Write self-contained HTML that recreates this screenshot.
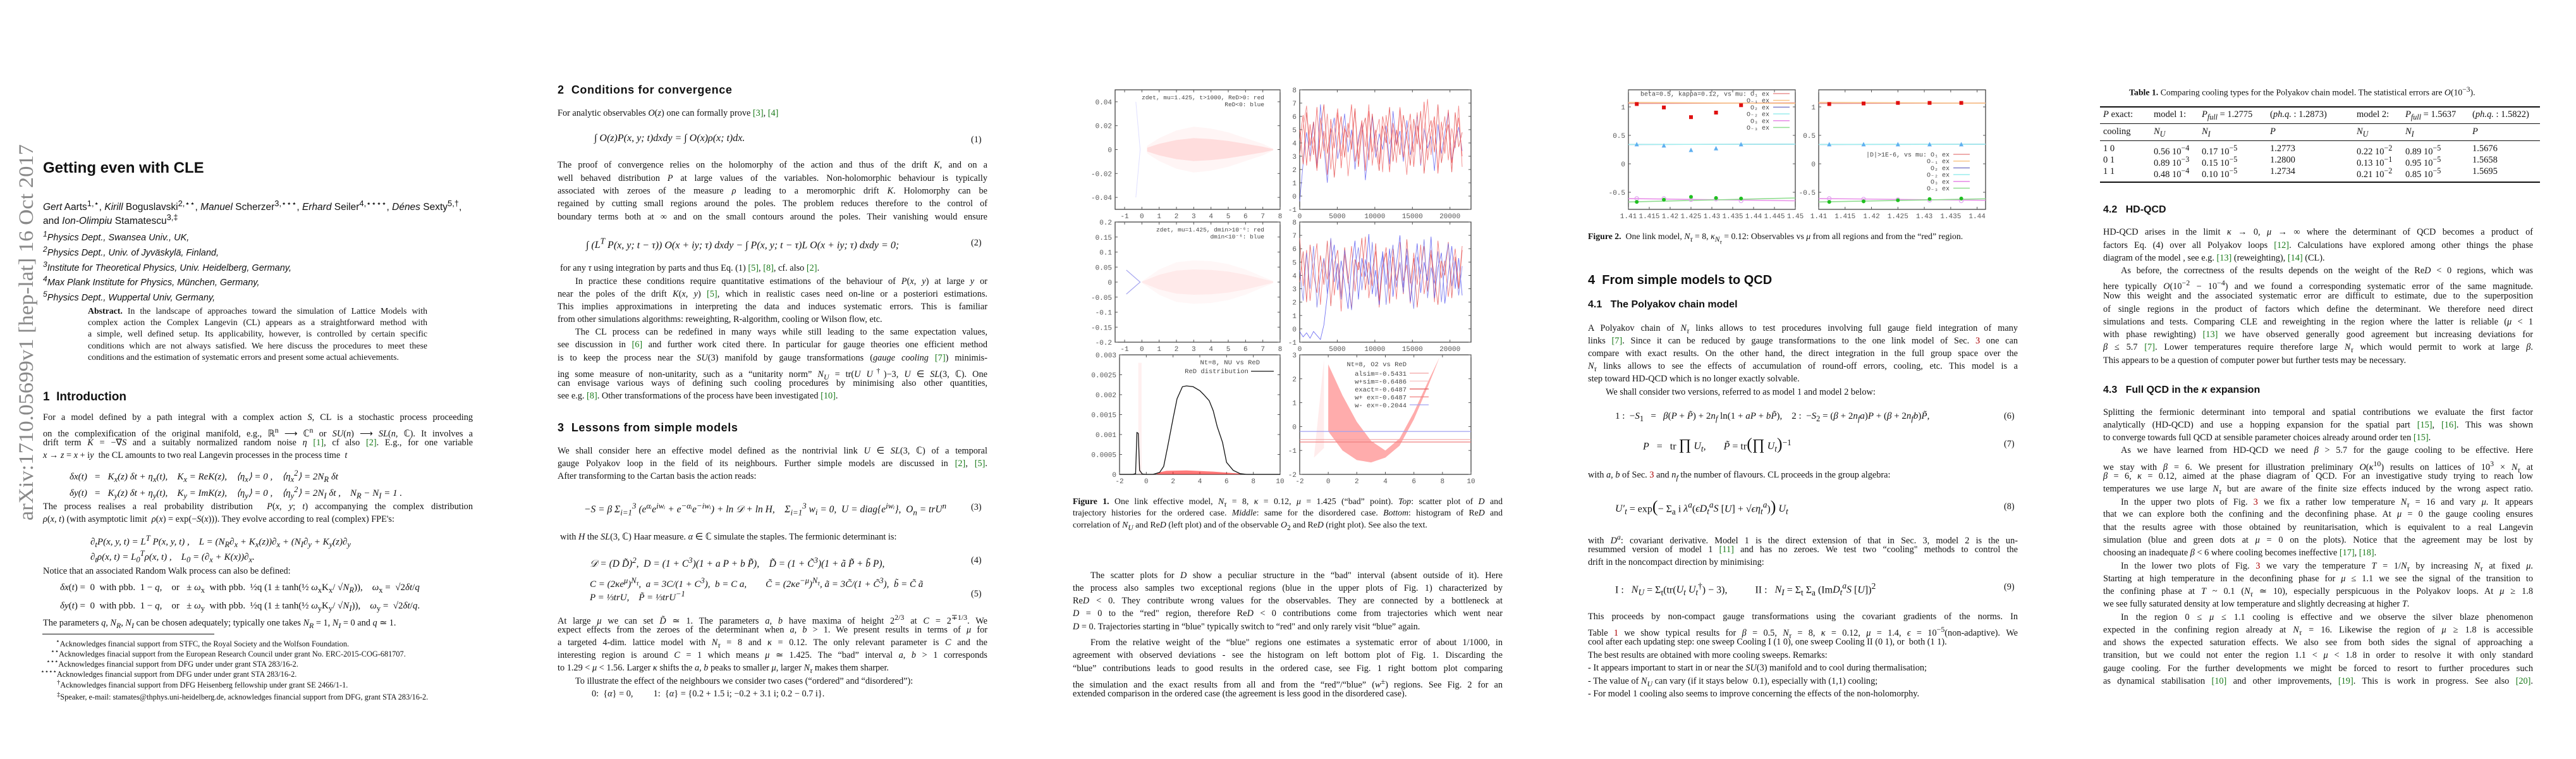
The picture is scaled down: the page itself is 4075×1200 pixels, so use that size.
<!DOCTYPE html>
<html><head><meta charset="utf-8">
<style>
html,body{margin:0;padding:0;background:#fff;}
body{width:4075px;height:1200px;position:relative;overflow:hidden;font-family:"Liberation Serif",serif;color:#111;}
.L,.E{position:absolute;width:680px;font-size:14.3px;line-height:20px;text-align:justify;text-align-last:justify;white-space:normal;}
.E{text-align-last:left;}
.I{text-indent:28px;}
.X{position:absolute;font-size:14.3px;line-height:20px;white-space:nowrap;}
.C{position:absolute;width:680px;font-size:13.8px;line-height:18px;text-align:justify;text-align-last:justify;}
.CE{text-align-last:left;}
.H1{position:absolute;font-family:"Liberation Sans",sans-serif;font-weight:bold;font-size:19px;white-space:nowrap;}
.H2{position:absolute;font-family:"Liberation Sans",sans-serif;font-weight:bold;font-size:16px;white-space:nowrap;}
.EQ{position:absolute;font-size:15px;line-height:20px;white-space:nowrap;font-style:italic;}
.EN{position:absolute;font-size:14.3px;line-height:20px;}
.S{font-family:"Liberation Sans",sans-serif;}
.FN{position:absolute;font-size:12.3px;line-height:16px;white-space:nowrap;}
.AF{position:absolute;font-family:"Liberation Sans",sans-serif;font-style:italic;font-size:14.5px;line-height:18px;white-space:nowrap;}
.ref{color:#1a7a1a;}
.rr{color:#a00;}
.tb{position:absolute;font-size:14.5px;white-space:nowrap;}
.rule{position:absolute;background:#111;}
</style></head>
<body>

<!-- PAGE 1 -->
<svg style="position:absolute;left:20px;top:220px" width="40" height="610"><text transform="translate(32,603) rotate(-90)" font-family="Liberation Serif" font-size="33" fill="#888" textLength="595" lengthAdjust="spacingAndGlyphs">arXiv:1710.05699v1  [hep-lat]  16 Oct 2017</text></svg>
<div class="H1" style="left:68px;top:252px;font-size:24px">Getting even with CLE</div>
<div class="X S" style="left:68px;top:312px;font-size:15.5px"><i>Gert</i> Aarts<sup>1,⋆</sup>, <i>Kirill</i> Boguslavski<sup>2,⋆⋆</sup>, <i>Manuel</i> Scherzer<sup>3,⋆⋆⋆</sup>, <i>Erhard</i> Seiler<sup>4,⋆⋆⋆⋆</sup>, <i>Dénes</i> Sexty<sup>5,†</sup>,</div>
<div class="X S" style="left:68px;top:334px;font-size:15.5px">and <i>Ion-Olimpiu</i> Stamatescu<sup>3,‡</sup></div>
<div class="AF" style="left:68px;top:361px"><sup>1</sup>Physics Dept., Swansea Univ., UK,<br><sup>2</sup>Physics Dept., Univ. of Jyväskylä, Finland,<br><sup>3</sup>Institute for Theoretical Physics, Univ. Heidelberg, Germany,<br><sup>4</sup>Max Plank Institute for Physics, München, Germany,<br><sup>5</sup>Physics Dept., Wuppertal Univ, Germany,</div>
<div>
<div class="C" style="left:139px;top:483px;width:537px"><b>Abstract.</b> In the landscape of approaches toward the simulation of Lattice Models with</div>
<div class="C" style="left:139px;top:501px;width:537px">complex action the Complex Langevin (CL) appears as a straightforward method with</div>
<div class="C" style="left:139px;top:519px;width:537px">a simple, well defined setup. Its applicability, however, is controlled by certain specific</div>
<div class="C" style="left:139px;top:538px;width:537px">conditions which are not always satisfied. We here discuss the procedures to meet these</div>
<div class="C CE" style="left:139px;top:556px;width:537px">conditions and the estimation of systematic errors and present some actual achievements.</div>
</div>
<div class="H1" style="left:68px;top:617px">1&nbsp; Introduction</div>
<div>
<div class="L" style="left:68px;top:650px">For a model defined by a path integral with a complex action <i>S</i>, CL is a stochastic process proceeding</div>
<div class="L" style="left:68px;top:670px">on the complexification of the original manifold, e.g., ℝ<sup>n</sup> ⟶ ℂ<sup>n</sup> or <i>SU</i>(<i>n</i>) ⟶ <i>SL</i>(<i>n</i>, ℂ). It involves a</div>
<div class="L" style="left:68px;top:690px">drift term <i>K</i> = −∇<i>S</i> and a suitably normalized random noise <i>η</i> <span class="ref">[1]</span>, cf also <span class="ref">[2]</span>. E.g., for one variable</div>
<div class="E" style="left:68px;top:710px"><i>x</i> → <i>z</i> = <i>x</i> + i<i>y</i>&nbsp; the CL amounts to two real Langevin processes in the process time&nbsp; <i>t</i></div>
<div class="EQ" style="left:110px;top:738px"><i>δx</i>(<i>t</i>) &nbsp;&nbsp;= &nbsp;&nbsp;<i>K<sub>x</sub></i>(<i>z</i>) <i>δt</i> + <i>η<sub>x</sub></i>(<i>t</i>), &nbsp;&nbsp;&nbsp;<i>K<sub>x</sub></i> = Re<i>K</i>(<i>z</i>), &nbsp;&nbsp;&nbsp;⟨<i>η<sub>x</sub></i>⟩ = 0 , &nbsp;&nbsp;&nbsp;⟨<i>η<sub>x</sub></i><sup>2</sup>⟩ = 2<i>N<sub>R</sub> δt</i></div>
<div class="EQ" style="left:110px;top:764px"><i>δy</i>(<i>t</i>) &nbsp;&nbsp;= &nbsp;&nbsp;<i>K<sub>y</sub></i>(<i>z</i>) <i>δt</i> + <i>η<sub>y</sub></i>(<i>t</i>), &nbsp;&nbsp;&nbsp;<i>K<sub>y</sub></i> = Im<i>K</i>(<i>z</i>), &nbsp;&nbsp;&nbsp;⟨<i>η<sub>y</sub></i>⟩ = 0 , &nbsp;&nbsp;&nbsp;⟨<i>η<sub>y</sub></i><sup>2</sup>⟩ = 2<i>N<sub>I</sub> δt</i> , &nbsp;&nbsp;&nbsp;<i>N<sub>R</sub></i> − <i>N<sub>I</sub></i> = 1 .</div>
<div class="L" style="left:68px;top:791px">The process realises a real probability distribution &nbsp;<i>P</i>(<i>x</i>, <i>y</i>; <i>t</i>) accompanying the complex distribution</div>
<div class="E" style="left:68px;top:811px"><i>ρ</i>(<i>x</i>, <i>t</i>) (with asymptotic limit &nbsp;<i>ρ</i>(<i>x</i>) = exp(−<i>S</i>(<i>x</i>))). They evolve according to real (complex) FPE's:</div>
<div class="EQ" style="left:143px;top:841px">∂<sub>t</sub><i>P</i>(<i>x</i>, <i>y</i>, <i>t</i>) = <i>L<sup>T</sup> P</i>(<i>x</i>, <i>y</i>, <i>t</i>) , &nbsp;&nbsp;&nbsp;<i>L</i> = (<i>N<sub>R</sub></i>∂<sub>x</sub> + <i>K<sub>x</sub></i>(<i>z</i>))∂<sub>x</sub> + (<i>N<sub>I</sub></i>∂<sub>y</sub> + <i>K<sub>y</sub></i>(<i>z</i>)∂<sub>y</sub></div>
<div class="EQ" style="left:143px;top:865px">∂<sub>t</sub><i>ρ</i>(<i>x</i>, <i>t</i>) = <i>L</i><sub>0</sub><sup>T</sup><i>ρ</i>(<i>x</i>, <i>t</i>) , &nbsp;&nbsp;&nbsp;<i>L</i><sub>0</sub> = (∂<sub>x</sub> + <i>K</i>(<i>x</i>))∂<sub>x</sub>.</div>
<div class="E" style="left:68px;top:893px">Notice that an associated Random Walk process can also be defined:</div>
<div class="EQ" style="left:95px;top:919px;font-style:normal"><i>δx</i>(<i>t</i>) = &nbsp;0 &nbsp;with pbb. &nbsp;1 − <i>q</i>, &nbsp;&nbsp;&nbsp;or &nbsp;&nbsp;± <i>ω</i><sub>x</sub> &nbsp;with pbb. &nbsp;½q (1 ± tanh(½ <i>ω</i><sub>x</sub>K<sub>x</sub>/ √<i>N<sub>R</sub></i>)), &nbsp;&nbsp;&nbsp;<i>ω</i><sub>x</sub> = &nbsp;√2<i>δt</i>/<i>q</i></div>
<div class="EQ" style="left:95px;top:948px;font-style:normal"><i>δy</i>(<i>t</i>) = &nbsp;0 &nbsp;with pbb. &nbsp;1 − <i>q</i>, &nbsp;&nbsp;&nbsp;or &nbsp;&nbsp;± <i>ω</i><sub>y</sub> &nbsp;with pbb. &nbsp;½q (1 ± tanh(½ <i>ω</i><sub>y</sub>K<sub>y</sub>/ √<i>N<sub>I</sub></i>)), &nbsp;&nbsp;&nbsp;<i>ω</i><sub>y</sub> = &nbsp;√2<i>δt</i>/<i>q</i>.</div>
<div class="E" style="left:68px;top:975px">The parameters <i>q</i>, <i>N<sub>R</sub></i>, <i>N<sub>I</sub></i> can be chosen adequately; typically one takes <i>N<sub>R</sub></i> = 1, <i>N<sub>I</sub></i> = 0 and <i>q</i> ≃ 1.</div>
</div>
<div class="rule" style="left:67px;top:1002px;width:272px;height:1px"></div>
<div>
<div class="FN" style="left:82px;top:1007px">&nbsp;&nbsp;<sup>⋆</sup>Acknowledges financial support from STFC, the Royal Society and the Wolfson Foundation.</div>
<div class="FN" style="left:74px;top:1023px">&nbsp;&nbsp;<sup>⋆⋆</sup>Acknowledges finacial support from the European Research Council under grant No. ERC-2015-COG-681707.</div>
<div class="FN" style="left:67px;top:1039px">&nbsp;&nbsp;<sup>⋆⋆⋆</sup>Acknowledges financial support from DFG under under grant STA 283/16-2.</div>
<div class="FN" style="left:58px;top:1055px">&nbsp;&nbsp;<sup>⋆⋆⋆⋆</sup>Acknowledges financial support from DFG under under grant STA 283/16-2.</div>
<div class="FN" style="left:84px;top:1072px">&nbsp;&nbsp;<sup>†</sup>Acknowledges financial support from DFG Heisenberg fellowship under grant SE 2466/1-1.</div>
<div class="FN" style="left:84px;top:1091px">&nbsp;&nbsp;<sup>‡</sup>Speaker, e-mail: stamates@thphys.uni-heidelberg.de, acknowledges financial support from DFG, grant STA 283/16-2.</div>
</div>

<!-- PAGE 2 -->
<div class="H1" style="left:882px;top:132px;font-size:18px;letter-spacing:0.6px">2&nbsp; Conditions for convergence</div>
<div>
<div class="E" style="left:882px;top:169px">For analytic observables <i>O</i>(<i>z</i>) one can formally prove <span class="ref">[3]</span>, <span class="ref">[4]</span></div>
<div class="EQ" style="left:940px;top:209px;font-size:16px">∫ <i>O</i>(<i>z</i>)<i>P</i>(<i>x</i>, <i>y</i>; <i>t</i>)<i>dxdy</i> = ∫ <i>O</i>(<i>x</i>)<i>ρ</i>(<i>x</i>; <i>t</i>)<i>dx</i>.</div>
<div class="EN" style="left:1536px;top:211px">(1)</div>
<div class="L" style="left:882px;top:251px">The proof of convergence relies on the holomorphy of the action and thus of the drift <i>K</i>, and on a</div>
<div class="L" style="left:882px;top:272px">well behaved distribution <i>P</i> at large values of the variables. Non-holomorphic behaviour is typically</div>
<div class="L" style="left:882px;top:292px">associated with zeroes of the measure <i>ρ</i> leading to a meromorphic drift <i>K</i>. Holomorphy can be</div>
<div class="L" style="left:882px;top:312px">regained by cutting small regions around the poles. The problem reduces therefore to the control of</div>
<div class="L" style="left:882px;top:333px">boundary terms both at ∞ and on the small contours around the poles. Their vanishing would ensure</div>
<div class="EQ" style="left:927px;top:372px;font-size:16px">∫ (<i>L<sup>T</sup> P</i>(<i>x</i>, <i>y</i>; <i>t</i> − <i>τ</i>)) <i>O</i>(<i>x</i> + i<i>y</i>; <i>τ</i>) <i>dxdy</i> − ∫ <i>P</i>(<i>x</i>, <i>y</i>; <i>t</i> − <i>τ</i>)<i>L O</i>(<i>x</i> + i<i>y</i>; <i>τ</i>) <i>dxdy</i> = 0;</div>
<div class="EN" style="left:1536px;top:374px">(2)</div>
<div class="E" style="left:886px;top:414px">for any <i>τ</i> using integration by parts and thus Eq. (1) <span class="ref">[5]</span>, <span class="ref">[8]</span>, cf. also <span class="ref">[2]</span>.</div>
<div class="L I" style="left:882px;top:435px">In practice these conditions require quantitative estimations of the behaviour of <i>P</i>(<i>x</i>, <i>y</i>) at large <i>y</i> or</div>
<div class="L" style="left:882px;top:455px">near the poles of the drift <i>K</i>(<i>x</i>, <i>y</i>) <span class="ref">[5]</span>, which in realistic cases need on-line or a posteriori estimations.</div>
<div class="L" style="left:882px;top:475px">This implies approximations in interpreting the data and induces systematic errors. This is familiar</div>
<div class="E" style="left:882px;top:495px">from other simulations algorithms: reweighting, R-algorithm, cooling or Wilson flow, etc.</div>
<div class="L I" style="left:882px;top:515px">The CL process can be redefined in many ways while still leading to the same expectation values,</div>
<div class="L" style="left:882px;top:535px">see discussion in <span class="ref">[6]</span> and further work cited there. In particular for gauge theories one efficient method</div>
<div class="L" style="left:882px;top:556px">is to keep the process near the <i>SU</i>(3) manifold by gauge transformations (<i>gauge cooling</i> <span class="ref">[7]</span>) minimis-</div>
<div class="L" style="left:882px;top:576px">ing some measure of non-unitarity, such as a “unitarity norm” <i>N<sub>U</sub></i> = tr(<i>U U</i><sup>†</sup>)−3, <i>U</i> ∈ <i>SL</i>(3, ℂ). One</div>
<div class="L" style="left:882px;top:596px">can envisage various ways of defining such cooling procedures by minimising also other quantities,</div>
<div class="E" style="left:882px;top:616px">see e.g. <span class="ref">[8]</span>. Other transformations of the process have been investigated <span class="ref">[10]</span>.</div>
</div>
<div class="H1" style="left:882px;top:666px;font-size:18px;letter-spacing:0.6px">3&nbsp; Lessons from simple models</div>
<div>
<div class="L" style="left:882px;top:703px">We shall consider here an effective model defined as the nontrivial link <i>U</i> ∈ <i>SL</i>(3, ℂ) of a temporal</div>
<div class="L" style="left:882px;top:723px">gauge Polyakov loop in the field of its neighbours. Further simple models are discussed in <span class="ref">[2]</span>, <span class="ref">[5]</span>.</div>
<div class="E" style="left:882px;top:743px">After transforming to the Cartan basis the action reads:</div>
<div class="EQ" style="left:924px;top:790px;font-size:15.5px">−<i>S</i> = <i>β</i> Σ<sub>i=1</sub><sup>3</sup> (e<sup>αᵢ</sup>e<sup>iwᵢ</sup> + e<sup>−αᵢ</sup>e<sup>−iwᵢ</sup>) + ln 𝒟 + ln <i>H</i>, &nbsp;&nbsp;&nbsp;Σ<sub>i=1</sub><sup>3</sup> <i>w<sub>i</sub></i> = 0, &nbsp;<i>U</i> = diag{e<sup>iwᵢ</sup>}, &nbsp;O<sub>n</sub> = trU<sup>n</sup></div>
<div class="EN" style="left:1536px;top:792px">(3)</div>
<div class="E" style="left:886px;top:839px">with <i>H</i> the <i>SL</i>(3, ℂ) Haar measure. <i>α</i> ∈ ℂ simulate the staples. The fermionic determinant is:</div>
<div class="EQ" style="left:933px;top:876px;font-size:15.5px">𝒟 = (<i>D D̃</i>)<sup>2</sup>, &nbsp;<i>D</i> = (1 + <i>C</i><sup>3</sup>)(1 + <i>a P</i> + <i>b P̃</i>), &nbsp;&nbsp;&nbsp;<i>D̃</i> = (1 + <i>C̃</i><sup>3</sup>)(1 + <i>ã P̃</i> + <i>b̃ P</i>),</div>
<div class="EN" style="left:1536px;top:876px">(4)</div>
<div class="EQ" style="left:933px;top:908px;font-size:15px"><i>C</i> = (2<i>κ</i>e<sup><i>μ</i></sup>)<sup>N<sub>τ</sub></sup>, &nbsp;a = 3C/(1 + C<sup>3</sup>), &nbsp;b = C a, &nbsp;&nbsp;&nbsp;&nbsp;&nbsp;&nbsp;&nbsp;C̃ = (2<i>κ</i>e<sup>−<i>μ</i></sup>)<sup>N<sub>τ</sub></sup>, ã = 3C̃/(1 + C̃<sup>3</sup>), &nbsp;b̃ = C̃ ã</div>
<div class="EQ" style="left:933px;top:929px;font-size:15px"><i>P</i> = ⅓tr<i>U</i>, &nbsp;&nbsp;&nbsp;<i>P̃</i> = ⅓tr<i>U</i><sup>−1</sup></div>
<div class="EN" style="left:1536px;top:929px">(5)</div>
<div class="L" style="left:882px;top:966px">At large <i>μ</i> we can set <i>D̃</i> ≃ 1. The parameters <i>a</i>, <i>b</i> have maxima of height 2<sup>2/3</sup> at <i>C</i> = 2<sup>∓1/3</sup>. We</div>
<div class="L" style="left:882px;top:986px">expect effects from the zeroes of the determinant when <i>a</i>, <i>b</i> &gt; 1. We present results in terms of <i>μ</i> for</div>
<div class="L" style="left:882px;top:1006px">a targeted 4-dim. lattice model with <i>N<sub>τ</sub></i> = 8 and <i>κ</i> = 0.12. The only relevant parameter is <i>C</i> and the</div>
<div class="L" style="left:882px;top:1026px">interesting region is around <i>C</i> = 1 which means <i>μ</i> ≃ 1.425. The “bad” interval <i>a</i>, <i>b</i> &gt; 1 corresponds</div>
<div class="E" style="left:882px;top:1046px">to 1.29 &lt; <i>μ</i> &lt; 1.56. Larger <i>κ</i> shifts the <i>a</i>, <i>b</i> peaks to smaller <i>μ</i>, larger <i>N<sub>τ</sub></i> makes them sharper.</div>
<div class="E I" style="left:882px;top:1067px">To illustrate the effect of the neighbours we consider two cases (“ordered” and “disordered”):</div>
<div class="X" style="left:936px;top:1087px">0: &nbsp;{<i>α</i>} = 0, &nbsp;&nbsp;&nbsp;&nbsp;&nbsp;&nbsp;&nbsp;&nbsp;1: &nbsp;{<i>α</i>} = {0.2 + 1.5 i; −0.2 + 3.1 i; 0.2 − 0.7 i}.</div>
</div>

<!-- PAGE 3 -->
<div>
<div class="C" style="left:1697px;top:784px"><b>Figure 1.</b> One link effective model, <i>N<sub>τ</sub></i> = 8, <i>κ</i> = 0.12, <i>μ</i> = 1.425 (“bad” point). <i>Top</i>: scatter plot of <i>D</i> and</div>
<div class="C" style="left:1697px;top:802px">trajectory histories for the ordered case. <i>Middle</i>: same for the disordered case. <i>Bottom</i>: histogram of Re<i>D</i> and</div>
<div class="C CE" style="left:1697px;top:821px">correlation of <i>N<sub>U</sub></i> and Re<i>D</i> (left plot) and of the observable <i>O</i><sub>2</sub> and Re<i>D</i> (right plot). See also the text.</div>
</div>
<div>
<div class="L I" style="left:1697px;top:900px">The scatter plots for <i>D</i> show a peculiar structure in the “bad" interval (absent outside of it). Here</div>
<div class="L" style="left:1697px;top:920px">the process also samples two exceptional regions (blue in the upper plots of Fig. 1) characterized by</div>
<div class="L" style="left:1697px;top:940px">Re<i>D</i> &lt; 0. They contribute wrong values for the observables. They are connected by a bottleneck at</div>
<div class="L" style="left:1697px;top:960px"><i>D</i> = 0 to the “red" region, therefore Re<i>D</i> &lt; 0 contributions come from trajectories which went near</div>
<div class="E" style="left:1697px;top:981px"><i>D</i> = 0. Trajectories starting in “blue" typically switch to “red" and only rarely visit “blue” again.</div>
<div class="L I" style="left:1697px;top:1006px">From the relative weight of the “blue" regions one estimates a systematic error of about 1/1000, in</div>
<div class="L" style="left:1697px;top:1026px">agreement with observed deviations - see the histogram on left bottom plot of Fig. 1. Discarding the</div>
<div class="L" style="left:1697px;top:1047px">“blue” contributions leads to good results in the ordered case, see Fig. 1 right bottom plot comparing</div>
<div class="L" style="left:1697px;top:1067px">the simulation and the exact results from all and from the “red”/“blue” (<i>w</i><sup>±</sup>) regions. See Fig. 2 for an</div>
<div class="E" style="left:1697px;top:1087px">extended comparison in the ordered case (the agreement is less good in the disordered case).</div>
</div>

<!-- PAGE 4 -->
<div class="C CE" style="left:2512px;top:365px;width:700px"><b>Figure 2.</b>&nbsp; One link model, <i>N<sub>τ</sub></i> = 8, <i>κ<sub>N<sub>τ</sub></sub></i> = 0.12: Observables vs <i>μ</i> from all regions and from the “red” region.</div>
<div class="H1" style="left:2512px;top:432px;font-size:20px">4&nbsp; From simple models to QCD</div>
<div class="H2" style="left:2512px;top:473px">4.1&nbsp;&nbsp; The Polyakov chain model</div>
<div>
<div class="L" style="left:2512px;top:509px">A Polyakov chain of <i>N<sub>τ</sub></i> links allows to test procedures involving full gauge field integration of many</div>
<div class="L" style="left:2512px;top:529px">links <span class="ref">[7]</span>. Since it can be reduced by gauge transformations to the one link model of Sec. <span class="rr">3</span> one can</div>
<div class="L" style="left:2512px;top:549px">compare with exact results. On the other hand, the direct integration in the full group space over the</div>
<div class="L" style="left:2512px;top:569px"><i>N<sub>τ</sub></i> links allows to see the effects of accumulation of round-off errors, cooling, etc. This model is a</div>
<div class="E" style="left:2512px;top:589px">step toward HD-QCD which is no longer exactly solvable.</div>
<div class="E I" style="left:2512px;top:610px">We shall consider two versions, referred to as model 1 and model 2 below:</div>
<div class="EQ" style="left:2555px;top:648px;font-style:normal">1 : &nbsp;−<i>S</i><sub>1</sub> &nbsp;&nbsp;= &nbsp;&nbsp;<i>β</i>(<i>P</i> + <i>P̃</i>) + 2<i>n<sub>f</sub></i> ln(1 + <i>aP</i> + <i>bP̃</i>), &nbsp;&nbsp;&nbsp;2 : &nbsp;−<i>S</i><sub>2</sub> = (<i>β</i> + 2<i>n<sub>f</sub>a</i>)<i>P</i> + (<i>β</i> + 2<i>n<sub>f</sub>b</i>)<i>P̃</i>,</div>
<div class="EN" style="left:3170px;top:648px">(6)</div>
<div class="EQ" style="left:2599px;top:690px;font-style:normal;font-size:16px"><i>P</i> &nbsp;&nbsp;= &nbsp;&nbsp;tr <span style="font-size:24px">∏</span> <i>U<sub>t</sub></i>, &nbsp;&nbsp;&nbsp;&nbsp;&nbsp;&nbsp;<i>P̃</i> = tr<span style="font-size:26px">(</span><span style="font-size:24px">∏</span> <i>U<sub>t</sub></i><span style="font-size:26px">)</span><sup>−1</sup></div>
<div class="EN" style="left:3170px;top:692px">(7)</div>
<div class="E" style="left:2512px;top:741px">with <i>a</i>, <i>b</i> of Sec. <span class="rr">3</span> and <i>n<sub>f</sub></i> the number of flavours. CL proceeds in the group algebra:</div>
<div class="EQ" style="left:2555px;top:789px;font-style:normal;font-size:16px"><i>U′<sub>t</sub></i> = exp<span style="font-size:26px">(</span>− Σ<sub>a</sub> i <i>λ<sup>a</sup></i>(<i>ϵD<sub>t</sub><sup>a</sup>S</i> [<i>U</i>] + √<i>ϵ</i><i>η<sub>t</sub><sup>a</sup></i>)<span style="font-size:26px">)</span> <i>U<sub>t</sub></i></div>
<div class="EN" style="left:3170px;top:791px">(8)</div>
<div class="L" style="left:2512px;top:839px">with <i>D<sup>a</sup></i>: covariant derivative. Model 1 is the direct extension of that in Sec. 3, model 2 is the un-</div>
<div class="L" style="left:2512px;top:859px">resummed version of model 1 <span class="ref">[11]</span> and has no zeroes. We test two “cooling" methods to control the</div>
<div class="E" style="left:2512px;top:879px">drift in the noncompact direction by minimising:</div>
<div class="EQ" style="left:2555px;top:917px;font-style:normal;font-size:16px">I : &nbsp;&nbsp;<i>N<sub>U</sub></i> = Σ<sub>t</sub>(tr(<i>U<sub>t</sub> U<sub>t</sub></i><sup>†</sup>) − 3), &nbsp;&nbsp;&nbsp;&nbsp;&nbsp;&nbsp;&nbsp;&nbsp;&nbsp;&nbsp;II : &nbsp;&nbsp;<i>N<sub>I</sub></i> = Σ<sub>t</sub> Σ<sub>a</sub> (Im<i>D<sub>t</sub><sup>a</sup>S</i> [<i>U</i>])<sup>2</sup></div>
<div class="EN" style="left:3170px;top:918px">(9)</div>
<div class="L" style="left:2512px;top:965px">This proceeds by non-compact gauge transformations using the covariant gradients of the norms. In</div>
<div class="L" style="left:2512px;top:985px">Table <span class="rr">1</span> we show typical results for <i>β</i> = 0.5, <i>N<sub>τ</sub></i> = 8, <i>κ</i> = 0.12, <i>μ</i> = 1.4, <i>ϵ</i> = 10<sup>−5</sup>(non-adaptive). We</div>
<div class="E" style="left:2512px;top:1005px">cool after each updating step: one sweep Cooling I (1 0), one sweep Cooling II (0 1), or &nbsp;both (1 1).</div>
<div class="E" style="left:2512px;top:1026px">The best results are obtained with more cooling sweeps. Remarks:</div>
<div class="E" style="left:2512px;top:1046px">- It appears important to start in or near the <i>SU</i>(3) manifold and to cool during thermalisation;</div>
<div class="E" style="left:2512px;top:1067px">- The value of <i>N<sub>U</sub></i> can vary (if it stays below &nbsp;0.1), especially with (1,1) cooling;</div>
<div class="E" style="left:2512px;top:1087px">- For model 1 cooling also seems to improve concerning the effects of the non-holomorphy.</div>
</div>

<!-- PAGE 5 -->
<div class="C CE" style="left:3368px;top:133px;width:660px"><b>Table 1.</b> Comparing cooling types for the Polyakov chain model. The statistical errors are <i>O</i>(10<sup>−3</sup>).</div>
<div>
<div class="rule" style="left:3322px;top:168px;width:696px;height:2px"></div>
<div class="rule" style="left:3322px;top:195px;width:696px;height:1px"></div>
<div class="rule" style="left:3322px;top:222px;width:696px;height:1px"></div>
<div class="rule" style="left:3322px;top:287px;width:696px;height:2px"></div>
<div class="tb" style="left:3327px;top:173px"><i>P</i> exact:</div>
<div class="tb" style="left:3407px;top:173px">model 1:</div>
<div class="tb" style="left:3483px;top:173px"><i>P<sub>full</sub></i> = 1.2775</div>
<div class="tb" style="left:3591px;top:173px">(<i>ph.q.</i> : 1.2873)</div>
<div class="tb" style="left:3728px;top:173px">model 2:</div>
<div class="tb" style="left:3805px;top:173px"><i>P<sub>full</sub></i> = 1.5637</div>
<div class="tb" style="left:3911px;top:173px">(<i>ph.q.</i> : 1.5822)</div>
<div class="tb" style="left:3327px;top:200px">cooling</div>
<div class="tb" style="left:3407px;top:200px"><i>N<sub>U</sub></i></div>
<div class="tb" style="left:3483px;top:200px"><i>N<sub>I</sub></i></div>
<div class="tb" style="left:3591px;top:200px"><i>P</i></div>
<div class="tb" style="left:3728px;top:200px"><i>N<sub>U</sub></i></div>
<div class="tb" style="left:3805px;top:200px"><i>N<sub>I</sub></i></div>
<div class="tb" style="left:3911px;top:200px"><i>P</i></div>
<div class="tb" style="left:3327px;top:227px">1 0</div><div class="tb" style="left:3407px;top:227px">0.56 10<sup>−4</sup></div><div class="tb" style="left:3483px;top:227px">0.17 10<sup>−5</sup></div><div class="tb" style="left:3591px;top:227px">1.2773</div><div class="tb" style="left:3728px;top:227px">0.22 10<sup>−2</sup></div><div class="tb" style="left:3805px;top:227px">0.89 10<sup>−5</sup></div><div class="tb" style="left:3911px;top:227px">1.5676</div>
<div class="tb" style="left:3327px;top:245px">0 1</div><div class="tb" style="left:3407px;top:245px">0.89 10<sup>−3</sup></div><div class="tb" style="left:3483px;top:245px">0.15 10<sup>−5</sup></div><div class="tb" style="left:3591px;top:245px">1.2800</div><div class="tb" style="left:3728px;top:245px">0.13 10<sup>−1</sup></div><div class="tb" style="left:3805px;top:245px">0.95 10<sup>−5</sup></div><div class="tb" style="left:3911px;top:245px">1.5658</div>
<div class="tb" style="left:3327px;top:263px">1 1</div><div class="tb" style="left:3407px;top:263px">0.48 10<sup>−4</sup></div><div class="tb" style="left:3483px;top:263px">0.10 10<sup>−5</sup></div><div class="tb" style="left:3591px;top:263px">1.2734</div><div class="tb" style="left:3728px;top:263px">0.21 10<sup>−2</sup></div><div class="tb" style="left:3805px;top:263px">0.85 10<sup>−5</sup></div><div class="tb" style="left:3911px;top:263px">1.5695</div>
</div>
<div class="H2" style="left:3327px;top:323px">4.2&nbsp;&nbsp; HD-QCD</div>
<div>
<div class="L" style="left:3327px;top:357px">HD-QCD arises in the limit <i>κ</i> → 0, <i>μ</i> → ∞ where the determinant of QCD becomes a product of</div>
<div class="L" style="left:3327px;top:378px">factors Eq. (4) over all Polyakov loops <span class="ref">[12]</span>. Calculations have explored among other things the phase</div>
<div class="E" style="left:3327px;top:398px">diagram of the model , see e.g. <span class="ref">[13]</span> (reweighting), <span class="ref">[14]</span> (CL).</div>
<div class="L I" style="left:3327px;top:418px">As before, the correctness of the results depends on the weight of the Re<i>D</i> &lt; 0 regions, which was</div>
<div class="L" style="left:3327px;top:437px">here typically <i>O</i>(10<sup>−2</sup> − 10<sup>−4</sup>) and we found a corresponding systematic error of the same magnitude.</div>
<div class="L" style="left:3327px;top:458px">Now this weight and the associated systematic error are difficult to estimate, due to the superposition</div>
<div class="L" style="left:3327px;top:479px">of single regions in the product of factors which define the determinant. We therefore need direct</div>
<div class="L" style="left:3327px;top:499px">simulations and tests. Comparing CLE and reweighting in the region where the latter is reliable (<i>μ</i> &lt; 1</div>
<div class="L" style="left:3327px;top:519px">with phase rewighting) <span class="ref">[13]</span> we have observed generally good agreement but increasing deviations for</div>
<div class="L" style="left:3327px;top:539px"><i>β</i> ≤ 5.7 <span class="ref">[7]</span>. Lower temperatures require therefore large <i>N<sub>τ</sub></i> which would permit to work at large <i>β</i>.</div>
<div class="E" style="left:3327px;top:560px">This appears to be a question of computer power but further tests may be necessary.</div>
</div>
<div class="H2" style="left:3327px;top:608px">4.3&nbsp;&nbsp; Full QCD in the <i>κ</i> expansion</div>
<div>
<div class="L" style="left:3327px;top:642px">Splitting the fermionic determinant into temporal and spatial contributions we evaluate the first factor</div>
<div class="L" style="left:3327px;top:662px">analytically (HD-QCD) and use a hopping expansion for the spatial part <span class="ref">[15]</span>, <span class="ref">[16]</span>. This was shown</div>
<div class="E" style="left:3327px;top:682px">to converge towards full QCD at sensible parameter choices already around order ten <span class="ref">[15]</span>.</div>
<div class="L I" style="left:3327px;top:702px">As we have learned from HD-QCD we need <i>β</i> &gt; 5.7 for the gauge cooling to be effective. Here</div>
<div class="L" style="left:3327px;top:723px">we stay with <i>β</i> = 6. We present for illustration preliminary <i>O</i>(<i>κ</i><sup>10</sup>) results on lattices of 10<sup>3</sup> × <i>N<sub>τ</sub></i> at</div>
<div class="L" style="left:3327px;top:743px"><i>β</i> = 6, <i>κ</i> = 0.12, aimed at the phase diagram of QCD. For an investigative study trying to reach low</div>
<div class="L" style="left:3327px;top:763px">temperatures we use large <i>N<sub>τ</sub></i> but are aware of the finite size effects induced by the wrong aspect ratio.</div>
<div class="L I" style="left:3327px;top:784px">In the upper two plots of Fig. <span class="rr">3</span> we fix a rather low temperature <i>N<sub>τ</sub></i> = 16 and vary <i>μ</i>. It appears</div>
<div class="L" style="left:3327px;top:803px">that we can explore both the confining and the deconfining phase. At <i>μ</i> = 0 the gauge cooling ensures</div>
<div class="L" style="left:3327px;top:824px">that the results agree with those obtained by reunitarisation, which is equivalent to a real Langevin</div>
<div class="L" style="left:3327px;top:844px">simulation (blue and green dots at <i>μ</i> = 0 on the plots). Notice that the agreement may be lost by</div>
<div class="E" style="left:3327px;top:864px">choosing an inadequate <i>β</i> &lt; 6 where cooling becomes ineffective <span class="ref">[17]</span>, <span class="ref">[18]</span>.</div>
<div class="L I" style="left:3327px;top:885px">In the lower two plots of Fig. <span class="rr">3</span> we vary the temperature <i>T</i> = 1/<i>N<sub>τ</sub></i> by increasing <i>N<sub>τ</sub></i> at fixed <i>μ</i>.</div>
<div class="L" style="left:3327px;top:905px">Starting at high temperature in the deconfining phase for <i>μ</i> ≤ 1.1 we see the signal of the transition to</div>
<div class="L" style="left:3327px;top:925px">the confining phase at <i>T</i> ~ 0.1 (<i>N<sub>τ</sub></i> ≃ 10), especially perspicuous in the Polyakov loops. At <i>μ</i> ≥ 1.8</div>
<div class="E" style="left:3327px;top:945px">we see fully saturated density at low temperature and slightly decreasing at higher <i>T</i>.</div>
<div class="L I" style="left:3327px;top:966px">In the region 0 ≤ <i>μ</i> ≤ 1.1 cooling is effective and we observe the silver blaze phenomenon</div>
<div class="L" style="left:3327px;top:986px">expected in the confining region already at <i>N<sub>τ</sub></i> = 16. Likewise the region of <i>μ</i> ≥ 1.8 is accessible</div>
<div class="L" style="left:3327px;top:1006px">and shows the expected saturation effects. We also see from both sides the signal of approaching a</div>
<div class="L" style="left:3327px;top:1026px">transition, but we could not enter the region 1.1 &lt; <i>μ</i> &lt; 1.8 in order to resolve it with only standard</div>
<div class="L" style="left:3327px;top:1047px">gauge cooling. For the further developments we might be forced to resort to further procedures such</div>
<div class="L" style="left:3327px;top:1067px">as dynamical stabilisation <span class="ref">[10]</span> and other improvements, <span class="ref">[19]</span>. This is work in progress. See also <span class="ref">[20]</span>.</div>
</div>

<svg id="charts" style="position:absolute;left:0;top:0;pointer-events:none" width="4075" height="1200"></svg>

<script>
// ---- Figure 1 data ----
const fig1ScatterA_x = [0.3, 1, 2, 3, 4, 5, 6, 7, 7.6];
const fig1ScatterA_spread = [0.002, 0.006, 0.010, 0.012, 0.011, 0.009, 0.006, 0.003, 0.0005];
const fig1ScatterC_x = [0, 1, 2, 3, 4, 5, 6, 7, 7.6];
const fig1ScatterC_spread = [0.002, 0.035, 0.055, 0.06, 0.058, 0.05, 0.035, 0.015, 0.003];
const trajStep = 460;
const trajRed1 = [4.2,6.1,2.3,5.4,3.1,6.7,2.8,4.9,1.6,5.8,3.6,6.3,2.1,5.1,4.4,6.9,2.6,4.0,5.7,1.9,6.4,3.3,5.0,2.4,6.0,4.6,1.8,5.5,3.8,6.6,2.9,4.7,6.2,2.2,5.3,3.5,7.1,2.7,4.8,6.0,1.7,5.6,3.2,6.5,2.5,4.3,5.9,3.0];
const trajRed2 = [3.1,5.2,6.8,2.6,4.5,1.9,5.9,3.4,6.2,2.0,4.8,6.6,3.0,5.3,1.5,4.1,6.4,2.8,5.6,3.7,6.9,2.3,4.6,5.8,1.8,6.1,3.9,5.0,2.5,6.7,4.2,1.6,5.4,3.3,6.3,2.4,4.9,7.3,3.1,5.7,2.0,4.4,6.0,2.7,5.1,3.6,6.8,2.2];
const trajRed3 = [5.0,2.4,6.3,3.8,5.6,2.1,4.7,6.9,3.2,5.1,1.4,4.3,6.0,2.9,5.5,3.5,6.6,2.2,4.9,5.9,2.7,6.2,3.6,1.9,5.3,4.0,6.7,2.6,5.0,3.1,6.1,4.5,2.3,5.8,3.9,6.4,1.7,4.6,5.7,3.3,6.9,2.5,4.2,5.4,1.8,6.3,3.7,4.8];
const trajBlue1 = [-0.4,2.5,4.8,3.0,5.6,2.2,6.9,3.7,1.0,4.6,5.9,2.8,4.1,6.2,3.3,5.0,2.0,4.4,5.5,1.2,3.8,6.0,2.9,4.7,3.5,5.3,2.4,6.4,3.9,4.9,2.6,5.7,3.1,4.2,6.1,2.3,5.1,3.6,4.5,1.9,5.4,3.2,4.8,6.3,2.7,4.0,5.2,3.4];
const trajRed4 = [6.8,3.2,5.9,2.1,4.6,6.4,1.8,5.2,3.7,6.7,2.5,4.9,1.3,5.6,3.4,6.2,2.8,5.0,3.9,6.9,2.3,4.4,5.8,1.6,4.7,6.1,3.0,5.4,2.2,6.5,3.6,4.8,1.9,5.7,3.3,6.3,2.6,4.2,5.9,2.0,6.6,3.8,5.1,2.4,4.5,6.0,3.1,6.2];
const trajRed5 = [3.5,5.8,2.0,6.3,4.1,2.7,5.5,3.3,6.6,1.7,4.8,5.9,2.4,6.1,3.8,1.5,5.2,4.4,6.8,2.9,5.0,3.2,6.4,2.1,4.6,5.7,1.9,6.0,3.6,4.9,2.6,6.7,3.4,5.3,1.6,4.3,6.2,2.8,5.6,3.9,1.8,5.1,4.0,6.5,2.3,5.4,3.0,5.9];
const trajBlue2 = [-0.2,-0.6,-0.3,-0.7,-0.2,-0.5,-0.8,0.3,2.5,4.8,6.3,2.9,5.1,3.4,1.5,4.7,6.6,2.2,5.3,3.9,7.1,2.6,4.4,1.8,5.8,3.3,6.0,2.4,4.9,7.0,3.1,5.5,2.0,4.2,6.4,2.7,5.0,3.6,6.9,2.3,4.6,5.7,1.9,4.1,6.2,3.0,5.3,2.5];
const trajBlue3 = [4.4,2.1,5.7,3.0,6.2,1.6,4.0,5.3,2.6,6.8,3.5,4.9,2.2,5.9,3.8,1.4,4.7,6.1,2.9,5.2,3.3,6.5,2.4,4.3,5.6,1.8,4.9,6.3,3.1,5.0,2.7,6.0,3.9,1.5,5.4,4.1,6.7,2.3,4.6,3.4,5.8,2.0,4.8,6.4,3.2,5.1,2.5,4.7];
const histX = [-2,-1,-0.8,-0.7,-0.6,-0.5,-0.3,0,0.5,1,1.3,1.6,2,2.3,2.7,3,3.5,4,4.3,4.7,5,5.3,5.7,6,6.5,7,7.5,10];
const histY = [0,0,0.00002,0.00105,0.00103,0.0001,0.00001,0,0,0.00005,0.0002,0.0007,0.0014,0.0019,0.0022,0.00222,0.0022,0.0021,0.0020,0.00185,0.0016,0.0012,0.0008,0.0003,0.0001,0.00002,0,0];
const nuBandX = [0.8, 1.5, 3, 5, 7];
const nuBandH = [0.00004, 0.00009, 0.0001, 0.00007, 0.00002];
const o2BandX = [0, 1, 2, 3, 4, 5, 6, 7, 7.8];
const o2BandTop = [2.6, 1.3, 0.2, -0.6, -1.0, -0.5, 0.6, 1.9, 2.9];
const o2BandBot = [-0.2, -1.0, -1.4, -1.5, -1.3, -0.8, 0.3, 1.7, 2.9];
const o2Lines = [-0.5431, -0.6486, -0.6487, -0.6487, -0.2044];
const o2LineLabels = ["alsim=-0.5431", "w+sim=-0.6486", "exact=-0.6487", "w+ ex=-0.6487", "w- ex=-0.2044"];
const o2LineColors = ["#f2a0a0", "#f6c0c0", "#e05050", "#f08080", "#a0a0f0"];
// ---- Figure 2 data ----
const muVals = [1.412, 1.4185, 1.425, 1.431, 1.437];
const f2L_O1 = [1.05, 0.99, 0.82, 0.90, 1.03];
const f2L_O2 = [0.34, 0.32, 0.24, 0.27, 0.34];
const f2L_Om3 = [-0.67, -0.63, -0.58, -0.60, -0.61];
const f2L_O3 = [-0.61, -0.61, -0.63, -0.62, -0.65];
const f2R_O1 = [1.05, 1.06, 1.07, 1.07, 1.07];
const f2R_O2 = [0.34, 0.34, 0.34, 0.34, 0.34];
const f2R_Om3 = [-0.67, -0.66, -0.64, -0.62, -0.61];
const f2R_O3 = [-0.61, -0.62, -0.63, -0.64, -0.65];
const exMu = [1.41, 1.45];
const exO1 = [1.06, 1.07];
const exOm1 = [1.08, 1.06];
const exO2 = [0.34, 0.345];
const exO3 = [-0.61, -0.65];
const exOm3 = [-0.67, -0.60];
const f2LegendLabels = ["O₁ ex", "O₋₁ ex", "O₂ ex", "O₋₂ ex", "O₃ ex", "O₋₃ ex"];
const f2LegendColors = ["#e89090", "#f8c890", "#8888cc", "#a0eeee", "#e890e8", "#90dd90"];

const NS = "http://www.w3.org/2000/svg";
const svg = document.getElementById("charts");
function mk(tag, attrs, parent) {
  const e = document.createElementNS(NS, tag);
  for (const k in attrs) e.setAttribute(k, attrs[k]);
  (parent || svg).appendChild(e);
  return e;
}
function scale(d0, d1, r0, r1) { return v => r0 + (v - d0) / (d1 - d0) * (r1 - r0); }
function txt(x, y, s, anchor, size, fill, parent) {
  const t = mk("text", {x: x, y: y, "text-anchor": anchor || "start", "font-family": "Liberation Mono, monospace", "font-size": size || 11, fill: fill || "#444"}, parent);
  t.textContent = s;
  return t;
}
function panel(name, b, xd, yd, xt, xl, yt, yl) {
  const g = mk("g", {});
  
  
  const sx = scale(xd[0], xd[1], b.x0, b.x1), sy = scale(yd[0], yd[1], b.y1, b.y0);
  const fr = mk("rect", {x: b.x0, y: b.y0, width: b.x1 - b.x0, height: b.y1 - b.y0, fill: "none", stroke: "#333", "stroke-width": 1.2}, g);
  
  
  xt.forEach((v, i) => {
    const x = sx(v);
    mk("line", {x1: x, y1: b.y1, x2: x, y2: b.y1 - 4, stroke: "#555"}, g);
    mk("line", {x1: x, y1: b.y0, x2: x, y2: b.y0 + 4, stroke: "#555"}, g);
    const t = txt(x, b.y1 + 14, xl[i], "middle", 11, "#555", g);
    
    
  });
  yt.forEach((v, i) => {
    const y = sy(v);
    mk("line", {x1: b.x0, y1: y, x2: b.x0 + 4, y2: y, stroke: "#555"}, g);
    mk("line", {x1: b.x1, y1: y, x2: b.x1 - 4, y2: y, stroke: "#555"}, g);
    const t = txt(b.x0 - 5, y + 4, yl[i], "end", 11, "#555", g);
    
    
  });
  return {g, sx, sy, b};
}
function traj(P, arr, color, name) {
  const pts = arr.map((v, i) => P.sx(i * trajStep).toFixed(1) + "," + P.sy(v).toFixed(1)).join(" ");
  const pl = mk("polyline", {points: pts, fill: "none", stroke: color, "stroke-width": 0.9, "stroke-opacity": 0.8}, P.g);
  
  
}
function blob(P, xs, sp, fill, op, k, name) {
  const up = xs.map((x, i) => P.sx(x) + "," + P.sy(sp[i] * k));
  const dn = xs.map((x, i) => P.sx(x) + "," + P.sy(-sp[i] * k)).reverse();
  const pg = mk("polygon", {points: up.concat(dn).join(" "), fill: fill, "fill-opacity": op}, P.g);
  
  
}

// Fig1 row1 left
const yTicksA = [-0.04, -0.02, 0, 0.02, 0.04];
const PA = panel("scatter-ordered", {x0: 1764, x1: 2025, y0: 142, y1: 331}, [-1.55, 8], [-0.05, 0.05],
  [-1,0,1,2,3,4,5,6,7,8], ["-1","0","1","2","3","4","5","6","7","8"], yTicksA, ["-0.04","-0.02","0","0.02","0.04"]);
blob(PA, fig1ScatterA_x, fig1ScatterA_spread, "#ff5050", 0.06, 1.6, "red-scatter-outer");
blob(PA, fig1ScatterA_x, fig1ScatterA_spread, "#ff3030", 0.12, 0.8, "red-scatter-core");
const bvA = mk("polyline", {points: [PA.sx(-0.35)+","+PA.sy(0.04), PA.sx(-0.1)+","+PA.sy(0), PA.sx(-0.35)+","+PA.sy(-0.04)].join(" "), fill: "none", stroke: "#8080ff", "stroke-opacity": 0.25, "stroke-width": 1}, PA.g);


txt(2000, 157, "zdet, mu=1.425, t>1000, ReD>0: red", "end", 9.5, "#444", PA.g);
txt(2000, 168, "ReD<0: blue", "end", 9.5, "#444", PA.g);

// Fig1 row1 right
const PB = panel("trajectories-ordered", {x0: 2056, x1: 2327, y0: 142, y1: 331}, [0, 22800], [-1, 8],
  [0,5000,10000,15000,20000], ["0","5000","10000","15000","20000"], [-1,0,1,2,3,4,5,6,7,8], ["-1","0","1","2","3","4","5","6","7","8"]);
traj(PB, trajBlue1, "#6060f0", "trajectory-blue");
traj(PB, trajRed1, "#f05050", "trajectory-red");
traj(PB, trajRed2, "#f07070", "trajectory-red");
traj(PB, trajRed3, "#e04040", "trajectory-red");

// Fig1 row2 left
const PC = panel("scatter-disordered", {x0: 1764, x1: 2025, y0: 351, y1: 541}, [-1.55, 8], [-0.2, 0.2],
  [-1,0,1,2,3,4,5,6,7,8], ["-1","0","1","2","3","4","5","6","7","8"],
  [-0.2,-0.15,-0.1,-0.05,0,0.05,0.1,0.15,0.2], ["-0.2","-0.15","-0.1","-0.05","0","0.05","0.1","0.15","0.2"]);
blob(PC, fig1ScatterC_x, fig1ScatterC_spread, "#ff6060", 0.05, 1.2, "red-scatter-outer");
blob(PC, fig1ScatterC_x, fig1ScatterC_spread, "#ff4040", 0.07, 0.7, "red-scatter-core");
const bvC = mk("polyline", {points: [PC.sx(-0.9)+","+PC.sy(0.04), PC.sx(-0.1)+","+PC.sy(0), PC.sx(-0.9)+","+PC.sy(-0.04)].join(" "), fill: "none", stroke: "#5050e0", "stroke-opacity": 0.5, "stroke-width": 1.2}, PC.g);


txt(2000, 366, "zdet, mu=1.425, dmin>10⁻⁶: red", "end", 9.5, "#444", PC.g);
txt(2000, 377, "dmin<10⁻⁶: blue", "end", 9.5, "#444", PC.g);

// Fig1 row2 right
const PD = panel("trajectories-disordered", {x0: 2056, x1: 2327, y0: 351, y1: 541}, [0, 22800], [-1, 8],
  [0,5000,10000,15000,20000], ["0","5000","10000","15000","20000"], [-1,0,1,2,3,4,5,6,7,8], ["-1","0","1","2","3","4","5","6","7","8"]);
traj(PD, trajRed4, "#f06060", "trajectory-red");
traj(PD, trajBlue2, "#5050f0", "trajectory-blue");
traj(PD, trajRed5, "#e04848", "trajectory-red");
traj(PD, trajBlue3, "#7070e8", "trajectory-blue");

// Fig1 row3 left
const PE = panel("nu-vs-red-histogram", {x0: 1771, x1: 2025, y0: 561, y1: 750}, [-2, 10], [0, 0.003],
  [-2,0,2,4,6,8,10], ["-2","0","2","4","6","8","10"],
  [0,0.0005,0.001,0.0015,0.002,0.0025,0.003], ["0","0.0005","0.001","0.0015","0.002","0.0025","0.003"]);
const bandPts = nuBandX.map((x, i) => PE.sx(x) + "," + PE.sy(nuBandH[i])).concat(nuBandX.slice().reverse().map(x => PE.sx(x) + "," + PE.sy(0)));
const nb = mk("polygon", {points: bandPts.join(" "), fill: "#ff2020", "fill-opacity": 0.6}, PE.g);


const sp = mk("rect", {x: PE.sx(-0.6), y: PE.sy(0.0028), width: PE.sx(-0.35) - PE.sx(-0.6), height: PE.sy(0) - PE.sy(0.0028), fill: "#ff4040", "fill-opacity": 0.08}, PE.g);


const hl = mk("polyline", {points: histX.map((x, i) => PE.sx(x) + "," + PE.sy(histY[i])).join(" "), fill: "none", stroke: "#111", "stroke-width": 1.3}, PE.g);


txt(1993, 576, "Nt=8, NU vs ReD", "end", 10.5, "#444", PE.g);
txt(1975, 590, "ReD distribution", "end", 10.5, "#444", PE.g);
mk("line", {x1: 1979, y1: 587, x2: 2015, y2: 587, stroke: "#111", "stroke-width": 1.3}, PE.g);

// Fig1 row3 right
const PF = panel("o2-vs-red", {x0: 2056, x1: 2327, y0: 561, y1: 750}, [-2, 10], [-2, 3],
  [-2,0,2,4,6,8,10], ["-2","0","2","4","6","8","10"], [-2,-1,0,1,2,3], ["-2","-1","0","1","2","3"]);
const o2Pts = o2BandX.map((x, i) => PF.sx(x) + "," + PF.sy(o2BandTop[i])).concat(o2BandX.map((x, i) => PF.sx(x) + "," + PF.sy(o2BandBot[i])).reverse());
const ob = mk("polygon", {points: o2Pts.join(" "), fill: "#ff1010", "fill-opacity": 0.35}, PF.g);


const tri = mk("polygon", {points: [PF.sx(-1)+","+PF.sy(-1.3), PF.sx(-0.3)+","+PF.sy(2.8), PF.sx(-0.3)+","+PF.sy(-0.9)].join(" "), fill: "#ff4040", "fill-opacity": 0.1}, PF.g);


o2Lines.forEach((v, i) => {
  const ln = mk("line", {x1: PF.b.x0, x2: PF.b.x1, y1: PF.sy(v), y2: PF.sy(v), stroke: o2LineColors[i], "stroke-width": 1.2}, PF.g);
  
  
  const ly = 590 + i * 12.5;
  txt(2225, ly + 4, o2LineLabels[i], "end", 10.5, "#444", PF.g);
  mk("line", {x1: 2230, x2: 2260, y1: ly, y2: ly, stroke: o2LineColors[i], "stroke-width": 1.2}, PF.g);
});
txt(2225, 579, "Nt=8, O2 vs ReD", "end", 10.5, "#444", PF.g);

// Figure 2
function fig2(name, b, xd, xt, xl, O1, O2, Om3, O3, legX, legY, legTitle) {
  const P = panel(name, b, xd, [-0.8, 1.3], xt, xl, [-0.5, 0, 0.5, 1], ["-0.5", "0", "0.5", "1"]);
  const ex = [exO1, exOm1, exO2, exO2, exO3, exOm3];
  ex.forEach((arr, i) => {
    const ln = mk("line", {x1: P.sx(exMu[0]), x2: P.b.x1, y1: P.sy(arr[0]), y2: P.sy(arr[0] + (arr[1] - arr[0]) * (xd[1] - exMu[0]) / (exMu[1] - exMu[0])), stroke: f2LegendColors[i], "stroke-width": 1.6}, P.g);
    
    
  });
  muVals.forEach((m, i) => {
    const x = P.sx(m);
    const s1 = mk("rect", {x: x - 3, y: P.sy(O1[i]) - 3, width: 6, height: 6, fill: "#e01010"}, P.g);
    
    
    const s2 = mk("polygon", {points: `${x},${P.sy(O2[i]) - 4} ${x - 3.5},${P.sy(O2[i]) + 3} ${x + 3.5},${P.sy(O2[i]) + 3}`, fill: "#60b0f0"}, P.g);
    
    
    const s3 = mk("circle", {cx: x, cy: P.sy(O3[i]), r: 3, fill: "none", stroke: "#e0a0f0", "stroke-width": 1.2}, P.g);
    
    
    const s4 = mk("circle", {cx: x, cy: P.sy(Om3[i]), r: 3, fill: "#20c020"}, P.g);
    
    
  });
  f2LegendLabels.forEach((lab, i) => {
    const y = legY + i * 10.7;
    const s = i === 0 ? legTitle + " " + lab : lab;
    txt(legX, y + 3.5, s, "end", 10, "#444", P.g);
    mk("line", {x1: legX + 6, x2: legX + 32, y1: y, y2: y, stroke: f2LegendColors[i], "stroke-width": 1.6}, P.g);
  });
}
fig2("observables-vs-mu-all", {x0: 2576, x1: 2840, y0: 142, y1: 331}, [1.41, 1.45],
  [1.41,1.415,1.42,1.425,1.43,1.435,1.44,1.445,1.45], ["1.41","1.415","1.42","1.425","1.43","1.435","1.44","1.445","1.45"],
  f2L_O1, f2L_O2, f2L_Om3, f2L_O3, 2799, 148, "beta=0.5, kappa=0.12,  vs mu:");
fig2("observables-vs-mu-red", {x0: 2877, x1: 3141, y0: 142, y1: 331}, [1.41, 1.4416],
  [1.41,1.415,1.42,1.425,1.43,1.435,1.44], ["1.41","1.415","1.42","1.425","1.43","1.435","1.44"],
  f2R_O1, f2R_O2, f2R_Om3, f2R_O3, 3084, 244, "|D|>1E-6, vs mu:");
</script>
</body></html>
